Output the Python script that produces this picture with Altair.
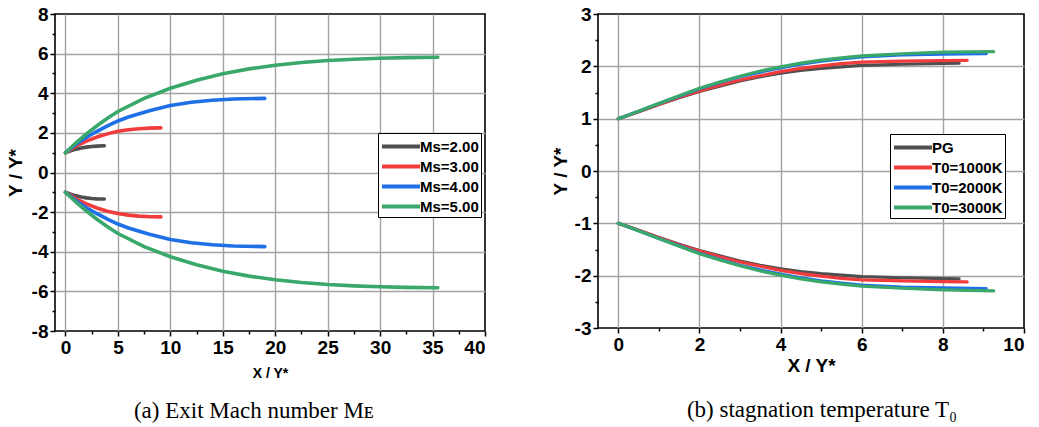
import altair as alt
import pandas as pd

# ---------- panel (a): nozzle contours for several exit Mach numbers ----------
ms_names = ["Ms=2.00", "Ms=3.00", "Ms=4.00", "Ms=5.00"]
ms_colors = ["#4f4f4f", "#f03c3c", "#1f6fe6", "#3aa86a"]

ms2_x = [0, 0.5, 1, 1.5, 2, 2.5, 3, 3.7]
ms2_up = [1.0, 1.1, 1.18, 1.24, 1.28, 1.31, 1.33, 1.35]
ms2_lo = [-1.0, -1.1, -1.18, -1.24, -1.28, -1.31, -1.33, -1.34]

ms3_x = [0, 1, 2, 3, 4, 5, 6, 7, 8, 9.1]
ms3_up = [1.0, 1.33, 1.58, 1.79, 1.95, 2.08, 2.16, 2.21, 2.24, 2.25]
ms3_lo = [-1.0, -1.33, -1.58, -1.79, -1.95, -2.07, -2.15, -2.2, -2.23, -2.24]

ms4_x = [0, 1, 2, 3, 4, 5, 6, 8, 10, 12, 14, 16, 19]
ms4_up = [1.0, 1.42, 1.78, 2.08, 2.35, 2.6, 2.8, 3.12, 3.38, 3.55, 3.65, 3.71, 3.74]
ms4_lo = [-1.0, -1.42, -1.78, -2.08, -2.35, -2.6, -2.8, -3.12, -3.38, -3.55, -3.65, -3.71, -3.74]

ms5_x = [0, 1, 2, 3, 4, 5, 7.5, 10, 12.5, 15, 17.5, 20, 22.5, 25, 27.5, 30, 32.5, 35.5]
ms5_up = [1.0, 1.5, 1.95, 2.36, 2.74, 3.08, 3.74, 4.25, 4.66, 4.99, 5.23, 5.41, 5.55, 5.65, 5.72, 5.77, 5.8, 5.82]
ms5_lo = [-1.0, -1.5, -1.95, -2.36, -2.74, -3.08, -3.74, -4.25, -4.66, -4.99, -5.23, -5.41, -5.55, -5.65, -5.72, -5.77, -5.8, -5.82]

# ---------- panel (b): contours for several stagnation temperatures ----------
t0_names = ["PG", "T0=1000K", "T0=2000K", "T0=3000K"]
t0_colors = ["#4f4f4f", "#f03c3c", "#1f6fe6", "#3aa86a"]

pg_x = [0, 0.5, 1, 1.5, 2, 2.5, 3, 3.5, 4, 4.5, 5, 5.5, 6, 7, 8, 8.4]
pg_up = [1.0, 1.13, 1.27, 1.4, 1.52, 1.62, 1.72, 1.8, 1.87, 1.92, 1.96, 1.99, 2.02, 2.04, 2.055, 2.06]
pg_lo = [-1.0, -1.13, -1.27, -1.4, -1.52, -1.62, -1.72, -1.8, -1.87, -1.92, -1.96, -1.99, -2.02, -2.04, -2.055, -2.06]

t1_x = [0, 0.5, 1, 1.5, 2, 2.5, 3, 3.5, 4, 4.5, 5, 5.5, 6, 7, 8, 8.6]
t1_up = [1.0, 1.13, 1.27, 1.41, 1.53, 1.64, 1.74, 1.82, 1.9, 1.96, 2.01, 2.05, 2.08, 2.1, 2.11, 2.115]
t1_lo = [-1.0, -1.13, -1.27, -1.41, -1.53, -1.64, -1.74, -1.82, -1.9, -1.96, -2.01, -2.05, -2.08, -2.1, -2.115, -2.12]

t2_x = [0, 0.5, 1, 1.5, 2, 2.5, 3, 3.5, 4, 4.5, 5, 5.5, 6, 7, 8, 9.07]
t2_up = [1.0, 1.14, 1.29, 1.43, 1.57, 1.69, 1.8, 1.89, 1.97, 2.04, 2.1, 2.14, 2.18, 2.22, 2.235, 2.24]
t2_lo = [-1.0, -1.14, -1.29, -1.43, -1.57, -1.69, -1.8, -1.89, -1.97, -2.04, -2.1, -2.14, -2.18, -2.22, -2.235, -2.245]

t3_x = [0, 0.5, 1, 1.5, 2, 2.5, 3, 3.5, 4, 4.5, 5, 5.5, 6, 7, 8, 9.25]
t3_up = [1.0, 1.14, 1.29, 1.44, 1.58, 1.7, 1.81, 1.91, 1.99, 2.06, 2.12, 2.16, 2.2, 2.24, 2.27, 2.28]
t3_lo = [-1.0, -1.14, -1.29, -1.44, -1.58, -1.7, -1.81, -1.91, -1.99, -2.06, -2.12, -2.16, -2.2, -2.24, -2.27, -2.29]


def contour_table(names, xs, ups, los):
    rows = []
    for name, x, up, lo in zip(names, xs, ups, los):
        for i, (xi, yi) in enumerate(zip(x, up)):
            rows.append({"series": name, "wall": "upper", "i": i, "x": xi, "y": yi})
        for i, (xi, yi) in enumerate(zip(x, lo)):
            rows.append({"series": name, "wall": "lower", "i": i, "x": xi, "y": yi})
    return pd.DataFrame(rows)


df_a = contour_table(ms_names, [ms2_x, ms3_x, ms4_x, ms5_x],
                     [ms2_up, ms3_up, ms4_up, ms5_up], [ms2_lo, ms3_lo, ms4_lo, ms5_lo])
df_b = contour_table(t0_names, [pg_x, t1_x, t2_x, t3_x],
                     [pg_up, t1_up, t2_up, t3_up], [pg_lo, t1_lo, t2_lo, t3_lo])

LABEL_FONT = "Liberation Sans"


def make_axis(values, major_test, grid_test, title, title_size, title_pad):
    # major ticks carry a label and a grid line; minor ticks are short and bare.
    # Grid lines on the frame edges are skipped so the black frame stays visible.
    return alt.Axis(
        values=values,
        title=title,
        labelExpr=f"({major_test}) ? '' + datum.value : ''",
        tickSize={"condition": {"test": major_test, "value": 5}, "value": 3},
        gridOpacity={"condition": {"test": grid_test, "value": 1}, "value": 0},
        titleFontSize=title_size,
        titlePadding=title_pad,
    )


def make_legend(x, y, row_pad):
    return alt.Legend(
        title=None,
        orient="none",
        legendX=x,
        legendY=y,
        symbolType="M-1,0H3",
        symbolSize=361,
        symbolStrokeWidth=4,
        labelOffset=17,
        rowPadding=row_pad,
        padding=2,
        strokeColor="black",
        fillColor="white",
    )


panel_a = alt.Chart(df_a).mark_line(strokeWidth=3.6, strokeCap="round").encode(
    x=alt.X("x:Q", scale=alt.Scale(domain=[-1, 40], nice=False, zero=False),
            axis=make_axis([v * 2.5 for v in range(0, 17)], "datum.value % 5 === 0",
                           "datum.value % 5 === 0 && datum.value < 40",
                           "X / Y*", 14, 9)),
    y=alt.Y("y:Q", scale=alt.Scale(domain=[-8, 8], nice=False),
            axis=make_axis(list(range(-8, 9)), "datum.value % 2 === 0",
                           "datum.value % 2 === 0 && abs(datum.value) < 8",
                           "Y / Y*", 19, 6)),
    color=alt.Color("series:N", scale=alt.Scale(domain=ms_names, range=ms_colors),
                    legend=make_legend(323, 119, -0.5)),
    detail="wall:N",
    order="i:Q",
).properties(
    width=430, height=317,
    title=alt.TitleParams("(a) Exit Mach number Mᴇ", orient="bottom", font="Liberation Serif",
                          fontSize=23, fontWeight="normal", color="black", offset=20, dx=-16),
)

panel_b = alt.Chart(df_b).mark_line(strokeWidth=3.2, strokeCap="round").encode(
    x=alt.X("x:Q", scale=alt.Scale(domain=[-0.5, 10], nice=False, zero=False),
            axis=make_axis(list(range(0, 11)), "datum.value % 2 === 0",
                           "datum.value % 2 === 0 && datum.value < 10",
                           "X / Y*", 19, 2)),
    y=alt.Y("y:Q", scale=alt.Scale(domain=[-3, 3], nice=False),
            axis=make_axis([v * 0.5 for v in range(-6, 7)], "datum.value % 1 === 0",
                           "datum.value % 1 === 0 && abs(datum.value) < 3",
                           "Y / Y*", 19, 4)),
    color=alt.Color("series:N", scale=alt.Scale(domain=t0_names, range=t0_colors),
                    legend=make_legend(292, 120, -1.5)),
    detail="wall:N",
    order="i:Q",
).properties(
    width=426, height=314,
    title=alt.TitleParams("(b) stagnation temperature T₀", orient="bottom", font="Liberation Serif",
                          fontSize=23, fontWeight="normal", color="black", offset=24, dx=11),
)

chart = alt.hconcat(panel_a, panel_b, spacing=63).resolve_scale(color="independent").properties(
    padding={"left": 5, "top": 4, "right": 5, "bottom": 5},
    background="white",
).configure_view(
    stroke="black", strokeWidth=1.6,
).configure_axis(
    grid=True,
    gridColor="#a3a3a3",
    gridWidth=1.4,
    domain=False,
    ticks=True,
    tickColor="black",
    tickWidth=1.5,
    labelFont=LABEL_FONT,
    labelFontWeight="bold",
    labelFontSize=19,
    labelColor="black",
    labelPadding=2,
    titleFont=LABEL_FONT,
    titleFontWeight="bold",
    titleColor="black",
).configure_legend(
    labelFont=LABEL_FONT,
    labelFontWeight="bold",
    labelFontSize=15,
    labelColor="black",
)

chart.save("out.html", embed_options={"renderer": "svg", "actions": False})
